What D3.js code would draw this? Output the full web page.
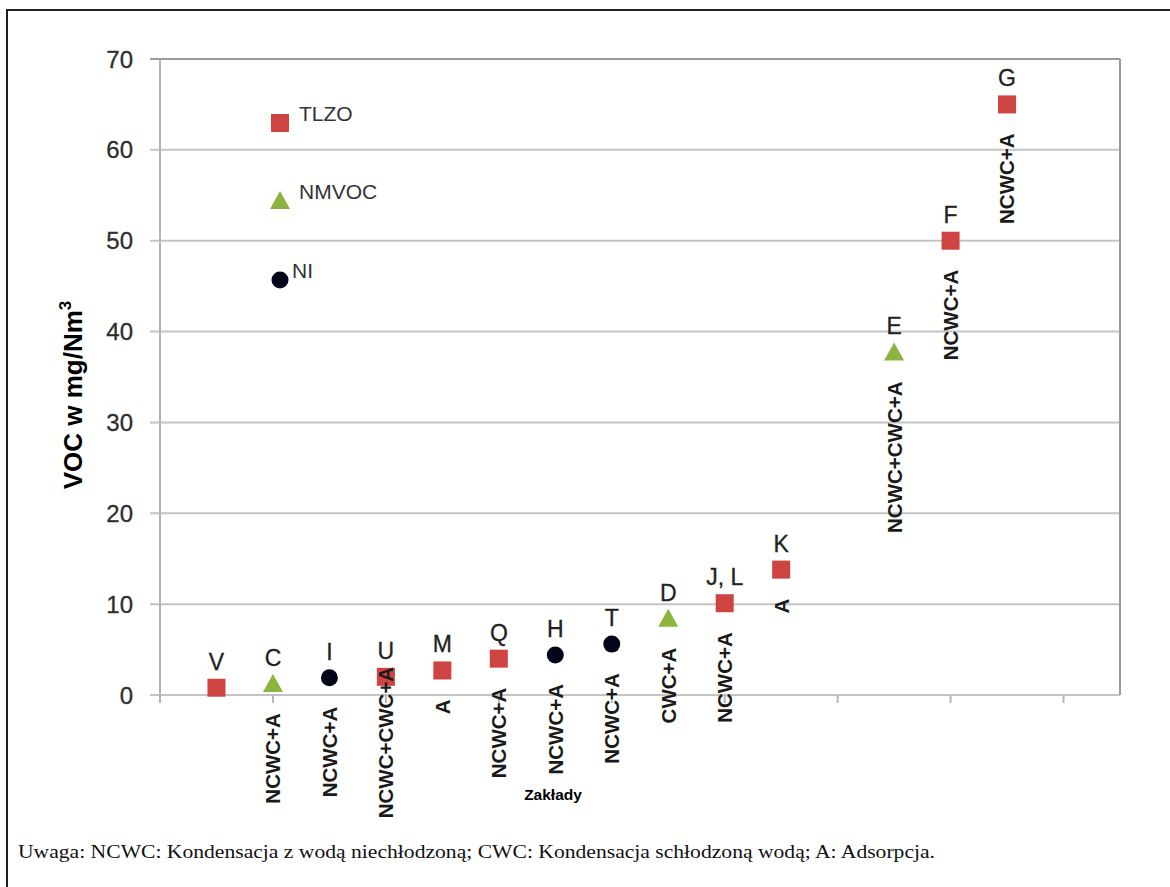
<!DOCTYPE html>
<html>
<head>
<meta charset="utf-8">
<script src="https://cdn.jsdelivr.net/npm/d3@7"></script>
<style>
  html, body { margin: 0; padding: 0; background: #fff; }
  svg { display: block; }
</style>
</head>
<body>
<svg id="chart" width="1170" height="887"></svg>
<script>
// Plants (Zakłady), their position along the x axis, VOC emission and measured quantity
const plants    = ["V", "C", "I", "U", "M", "Q", "H", "T", "D", "J, L", "K", "E", "F", "G"];
const plantPos  = [1, 2, 3, 4, 5, 6, 7, 8, 9, 10, 11, 13, 14, 15];
const vocValues = [0.8, 1.2, 1.9, 2.0, 2.7, 4.0, 4.4, 5.6, 8.4, 10.1, 13.8, 37.7, 50.0, 65.0];
const measured  = ["TLZO", "NMVOC", "NI", "TLZO", "TLZO", "TLZO", "NI", "NI", "NMVOC", "TLZO", "TLZO", "NMVOC", "TLZO", "TLZO"];
const processes = ["", "NCWC+A", "NCWC+A", "NCWC+CWC+A", "A", "NCWC+A", "NCWC+A", "NCWC+A",
                   "CWC+A", "NCWC+A", "A", "NCWC+CWC+A", "NCWC+A", "NCWC+A"];

// Axis setup
const yTicks = [0, 10, 20, 30, 40, 50, 60, 70];
const xTicks = [0, 2, 4, 6, 8, 10, 12, 14, 16];
const legendItems = ["TLZO", "NMVOC", "NI"];

const yTitle = "VOC w mg/Nm";
const xTitle = "Zakłady";
const note = "Uwaga: NCWC: Kondensacja z wodą niechłodzoną; CWC: Kondensacja schłodzoną wodą; A: Adsorpcja.";

// Marker styling per measured quantity
const colors = { TLZO: "#cf4340", NMVOC: "#8cb43f", NI: "#05051a" };

const svg = d3.select("#chart");

// Outer frame
svg.append("rect")
  .attr("x", 7).attr("y", 10).attr("width", 1180).attr("height", 900)
  .attr("fill", "none").attr("stroke", "#1e1e1e").attr("stroke-width", 2);

const x = d3.scaleLinear().domain([0, 17]).range([160, 1120]);
const y = d3.scaleLinear().domain([0, 70]).range([695, 59]);

// Horizontal gridlines with small left ticks
svg.append("g")
  .selectAll("line")
  .data(yTicks)
  .join("line")
  .attr("x1", x(0) - 10).attr("x2", x(17))
  .attr("y1", d => y(d)).attr("y2", d => y(d))
  .attr("stroke", d => d === 70 ? "#9a9a9a" : "#c4c4c4")
  .attr("stroke-width", 2);

// Right border of the plot
svg.append("line")
  .attr("x1", x(17)).attr("x2", x(17))
  .attr("y1", y(70)).attr("y2", y(0))
  .attr("stroke", "#9a9a9a").attr("stroke-width", 2);

// Left axis line
svg.append("line")
  .attr("x1", x(0)).attr("x2", x(0))
  .attr("y1", y(70)).attr("y2", y(0) + 8)
  .attr("stroke", "#b4b4b4").attr("stroke-width", 2);

// x tick marks
svg.append("g")
  .selectAll("line")
  .data(xTicks)
  .join("line")
  .attr("x1", d => x(d)).attr("x2", d => x(d))
  .attr("y1", y(0)).attr("y2", y(0) + 8)
  .attr("stroke", "#b4b4b4").attr("stroke-width", 2);

// y tick labels
svg.append("g")
  .selectAll("text")
  .data(yTicks)
  .join("text")
  .attr("x", 133)
  .attr("y", d => y(d))
  .attr("dy", "0.36em")
  .attr("text-anchor", "end")
  .attr("font-family", "Arial, 'Liberation Sans', sans-serif")
  .attr("font-size", 24)
  .attr("fill", "#2e2e2e")
  .attr("stroke", "#2e2e2e")
  .attr("stroke-width", 0.3)
  .text(d => d);

// y axis title
const yt = svg.append("text")
  .attr("transform", "translate(82,395) rotate(-90)")
  .attr("text-anchor", "middle")
  .attr("font-family", "Arial, 'Liberation Sans', sans-serif")
  .attr("font-size", 26)
  .attr("font-weight", "bold")
  .attr("fill", "#000");
yt.append("tspan").text(yTitle);
yt.append("tspan").attr("font-size", 17).attr("dy", -11).text("3");

// x axis title
svg.append("text")
  .attr("x", 553).attr("y", 800)
  .attr("text-anchor", "middle")
  .attr("font-family", "Arial, 'Liberation Sans', sans-serif")
  .attr("font-size", 15.5)
  .attr("font-weight", "bold")
  .attr("fill", "#000")
  .text(xTitle);

// Marker drawing helper
function drawMarker(g, kind) {
  if (kind === "TLZO") {
    g.append("rect").attr("x", -9).attr("y", -9).attr("width", 18).attr("height", 18)
      .attr("fill", colors.TLZO);
  } else if (kind === "NMVOC") {
    g.append("path").attr("d", "M0,-10 L10,8 L-10,8 Z").attr("fill", colors.NMVOC);
  } else {
    g.append("circle").attr("r", 8.5).attr("fill", colors.NI);
  }
}

// Data points
const points = plants.map((p, i) => ({
  plant: p, pos: plantPos[i], value: vocValues[i], kind: measured[i], proc: processes[i]
}));

const pts = svg.append("g")
  .selectAll("g")
  .data(points)
  .join("g")
  .attr("transform", d => `translate(${x(d.pos)},${y(d.value)})`);
pts.each(function (d) { drawMarker(d3.select(this), d.kind); });

// Plant letters above each marker
pts.append("text")
  .attr("y", -18)
  .attr("text-anchor", "middle")
  .attr("font-family", "Arial, 'Liberation Sans', sans-serif")
  .attr("font-size", 23)
  .attr("fill", "#222")
  .attr("stroke", "#222")
  .attr("stroke-width", 0.3)
  .text(d => d.plant);

// Process labels below each marker, rotated
const procGap = 29;
const procGapOverride = { "U": -10 };
pts.filter(d => d.proc !== "")
  .append("text")
  .attr("transform", d => `translate(0,${d.plant in procGapOverride ? procGapOverride[d.plant] : procGap}) rotate(-90)`)
  .attr("text-anchor", "end")
  .attr("dy", "0.36em")
  .attr("font-family", "Arial, 'Liberation Sans', sans-serif")
  .attr("font-size", 20.5)
  .attr("font-weight", "bold")
  .attr("fill", "#1a1a1a")
  .text(d => d.proc);

// Legend drawn inside the plot area
const legend = svg.append("g");
const legendRows = [123, 201, 280];
legendItems.forEach((k, i) => {
  const g = legend.append("g").attr("transform", `translate(280,${legendRows[i]})`);
  drawMarker(g, k);
  g.append("text")
    .attr("x", k === "NI" ? 12 : 19)
    .attr("y", -10)
    .attr("dy", "0.36em")
    .attr("font-family", "Arial, 'Liberation Sans', sans-serif")
    .attr("font-size", 21)
    .attr("fill", "#333")
    .text(k);
});

// Footnote
svg.append("text")
  .attr("x", 18).attr("y", 858)
  .attr("font-family", "'Liberation Serif', 'Times New Roman', serif")
  .attr("font-size", 19.5)
  .attr("fill", "#111")
  .attr("textLength", 917)
  .attr("lengthAdjust", "spacingAndGlyphs")
  .text(note);
</script>
</body>
</html>
